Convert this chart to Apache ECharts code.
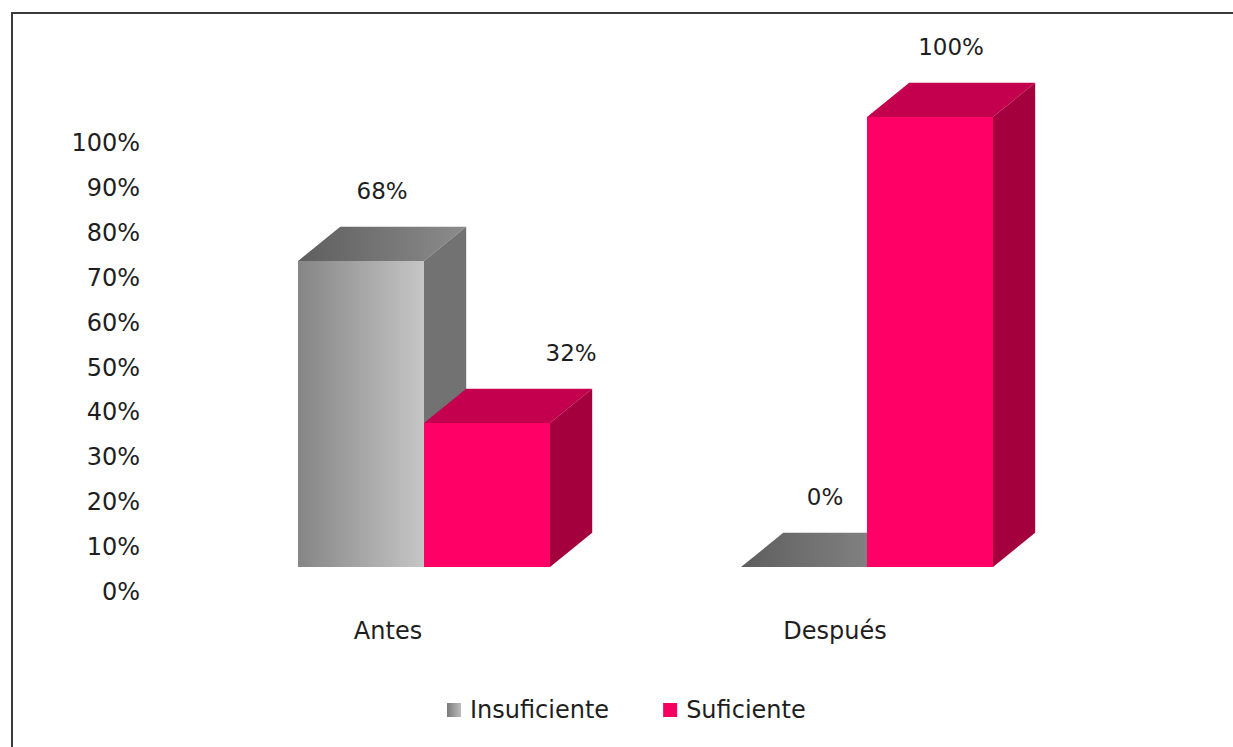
<!DOCTYPE html>
<html>
<head>
<meta charset="utf-8">
<script src="https://cdn.jsdelivr.net/npm/echarts@6/dist/echarts.min.js"></script>
<style>
  html, body {margin: 0; padding: 0; background: #fff;}
  #main {width: 1233px; height: 747px;}
</style>
</head>
<body>
<div id="main"></div>
<script>
function $(id) {return document.getElementById(id)}

var categories = ['Antes', 'Después'];
var seriesNames = ['Insuficiente', 'Suficiente'];
var insuficiente = [68, 0];
var suficiente = [32, 100];
var yTicks = [0, 10, 20, 30, 40, 50, 60, 70, 80, 90, 100];

var FONT = '"DejaVu Sans", sans-serif';

// colours for each face of the 3d boxes
var faces = [
  {
    front: new echarts.graphic.LinearGradient(0, 0, 1, 0, [
      {offset: 0, color: '#858585'}, {offset: 1, color: '#c6c6c6'}
    ]),
    top: new echarts.graphic.LinearGradient(0, 0, 1, 0, [
      {offset: 0, color: '#5e5e5e'}, {offset: 1, color: '#8c8c8c'}
    ]),
    side: '#727272'
  },
  {front: '#ff0066', top: '#c4004e', side: '#a3003d'}
];

// draw one 3d column: front face, top face, right side, label
function box(idx) {
  return function (params, api) {
    var cat = api.value(0);
    var val = api.value(1);
    var band = api.size([1, 0])[0];
    var w = band * 0.2844;
    var dx = w * 0.335, dy = dx * 0.81;
    var base = api.coord([cat, 0]);
    var top = api.coord([cat, val]);
    var x0 = base[0] + (idx === 0 ? -w : 0);
    var x1 = x0 + w;
    var yb = base[1], yt = top[1];
    var f = faces[idx];
    var children = [];
    if (yb - yt > 0.5) {
      children.push({type: 'rect', shape: {x: x0, y: yt, width: w, height: yb - yt},
        style: {fill: f.front}});
    }
    children.push({type: 'polygon', shape: {points: [[x0, yt], [x1, yt], [x1 + dx, yt - dy], [x0 + dx, yt - dy]]},
      style: {fill: f.top}});
    children.push({type: 'polygon', shape: {points: [[x1, yt], [x1, yb], [x1 + dx, yb - dy], [x1 + dx, yt - dy]]},
      style: {fill: f.side}});
    // excel pushes the label right when a taller box stands to its left
    var lx = x0 + w / 2 + dx / 2;
    if (idx === 1 && insuficiente[cat] > val) lx += w / 2;
    children.push({type: 'text', style: {
      text: val + '%', x: lx, y: yt - dy - 36,
      align: 'center', verticalAlign: 'middle',
      font: '23px ' + FONT, fill: '#1e1e1e'
    }});
    return {type: 'group', children: children};
  };
}

function toData(arr) {
  return arr.map(function (v, i) { return [i, v]; });
}

var chart = echarts.init($('main'), null, {renderer: 'svg'});
chart.setOption({
  backgroundColor: '#fff',
  animation: false,
  graphic: [
    {type: 'line', shape: {x1: 11, y1: 13, x2: 1233, y2: 13}, style: {stroke: '#3a3a3a', lineWidth: 2}},
    {type: 'line', shape: {x1: 12, y1: 12, x2: 12, y2: 747}, style: {stroke: '#3a3a3a', lineWidth: 2}}
  ],
  legend: {
    data: [
      {name: seriesNames[0], itemStyle: {color: new echarts.graphic.LinearGradient(0, 0, 1, 0, [
        {offset: 0, color: '#7a7a7a'}, {offset: 1, color: '#bdbdbd'}])}},
      {name: seriesNames[1], itemStyle: {color: '#f50060'}}
    ],
    left: 442,
    top: 693,
    icon: 'rect',
    itemWidth: 14,
    itemHeight: 14,
    itemGap: 54,
    textStyle: {fontFamily: FONT, fontSize: 24, color: '#1e1e1e', padding: [0, 0, 0, 4]}
  },
  grid: [
    // bars (front faces)
    {left: 202.5, right: 144.5, top: 117, bottom: 180},
    // tick labels of the back wall
    {left: 164.5, right: 174.5, top: 143, bottom: 155}
  ],
  xAxis: [
    {type: 'category', gridIndex: 0, data: categories, show: false},
    {type: 'category', gridIndex: 1, data: categories,
      axisLine: {show: false}, axisTick: {show: false},
      axisLabel: {margin: 27, fontFamily: FONT, fontSize: 24, color: '#1e1e1e'}}
  ],
  yAxis: [
    {type: 'value', gridIndex: 0, min: 0, max: 100, interval: 10, show: false},
    {type: 'value', gridIndex: 1, min: 0, max: 100, interval: 10,
      axisLine: {show: false}, axisTick: {show: false}, splitLine: {show: false},
      axisLabel: {margin: 24.5, fontFamily: FONT, fontSize: 24, color: '#1e1e1e',
        formatter: function (v) { return yTicks.indexOf(v) >= 0 ? v + '%' : ''; }}}
  ],
  series: [
    {name: seriesNames[0], type: 'custom', xAxisIndex: 0, yAxisIndex: 0,
      renderItem: box(0), data: toData(insuficiente), itemStyle: {color: '#9a9a9a'}},
    {name: seriesNames[1], type: 'custom', xAxisIndex: 0, yAxisIndex: 0,
      renderItem: box(1), data: toData(suficiente), itemStyle: {color: '#ff0066'}}
  ]
});
</script>
</body>
</html>
